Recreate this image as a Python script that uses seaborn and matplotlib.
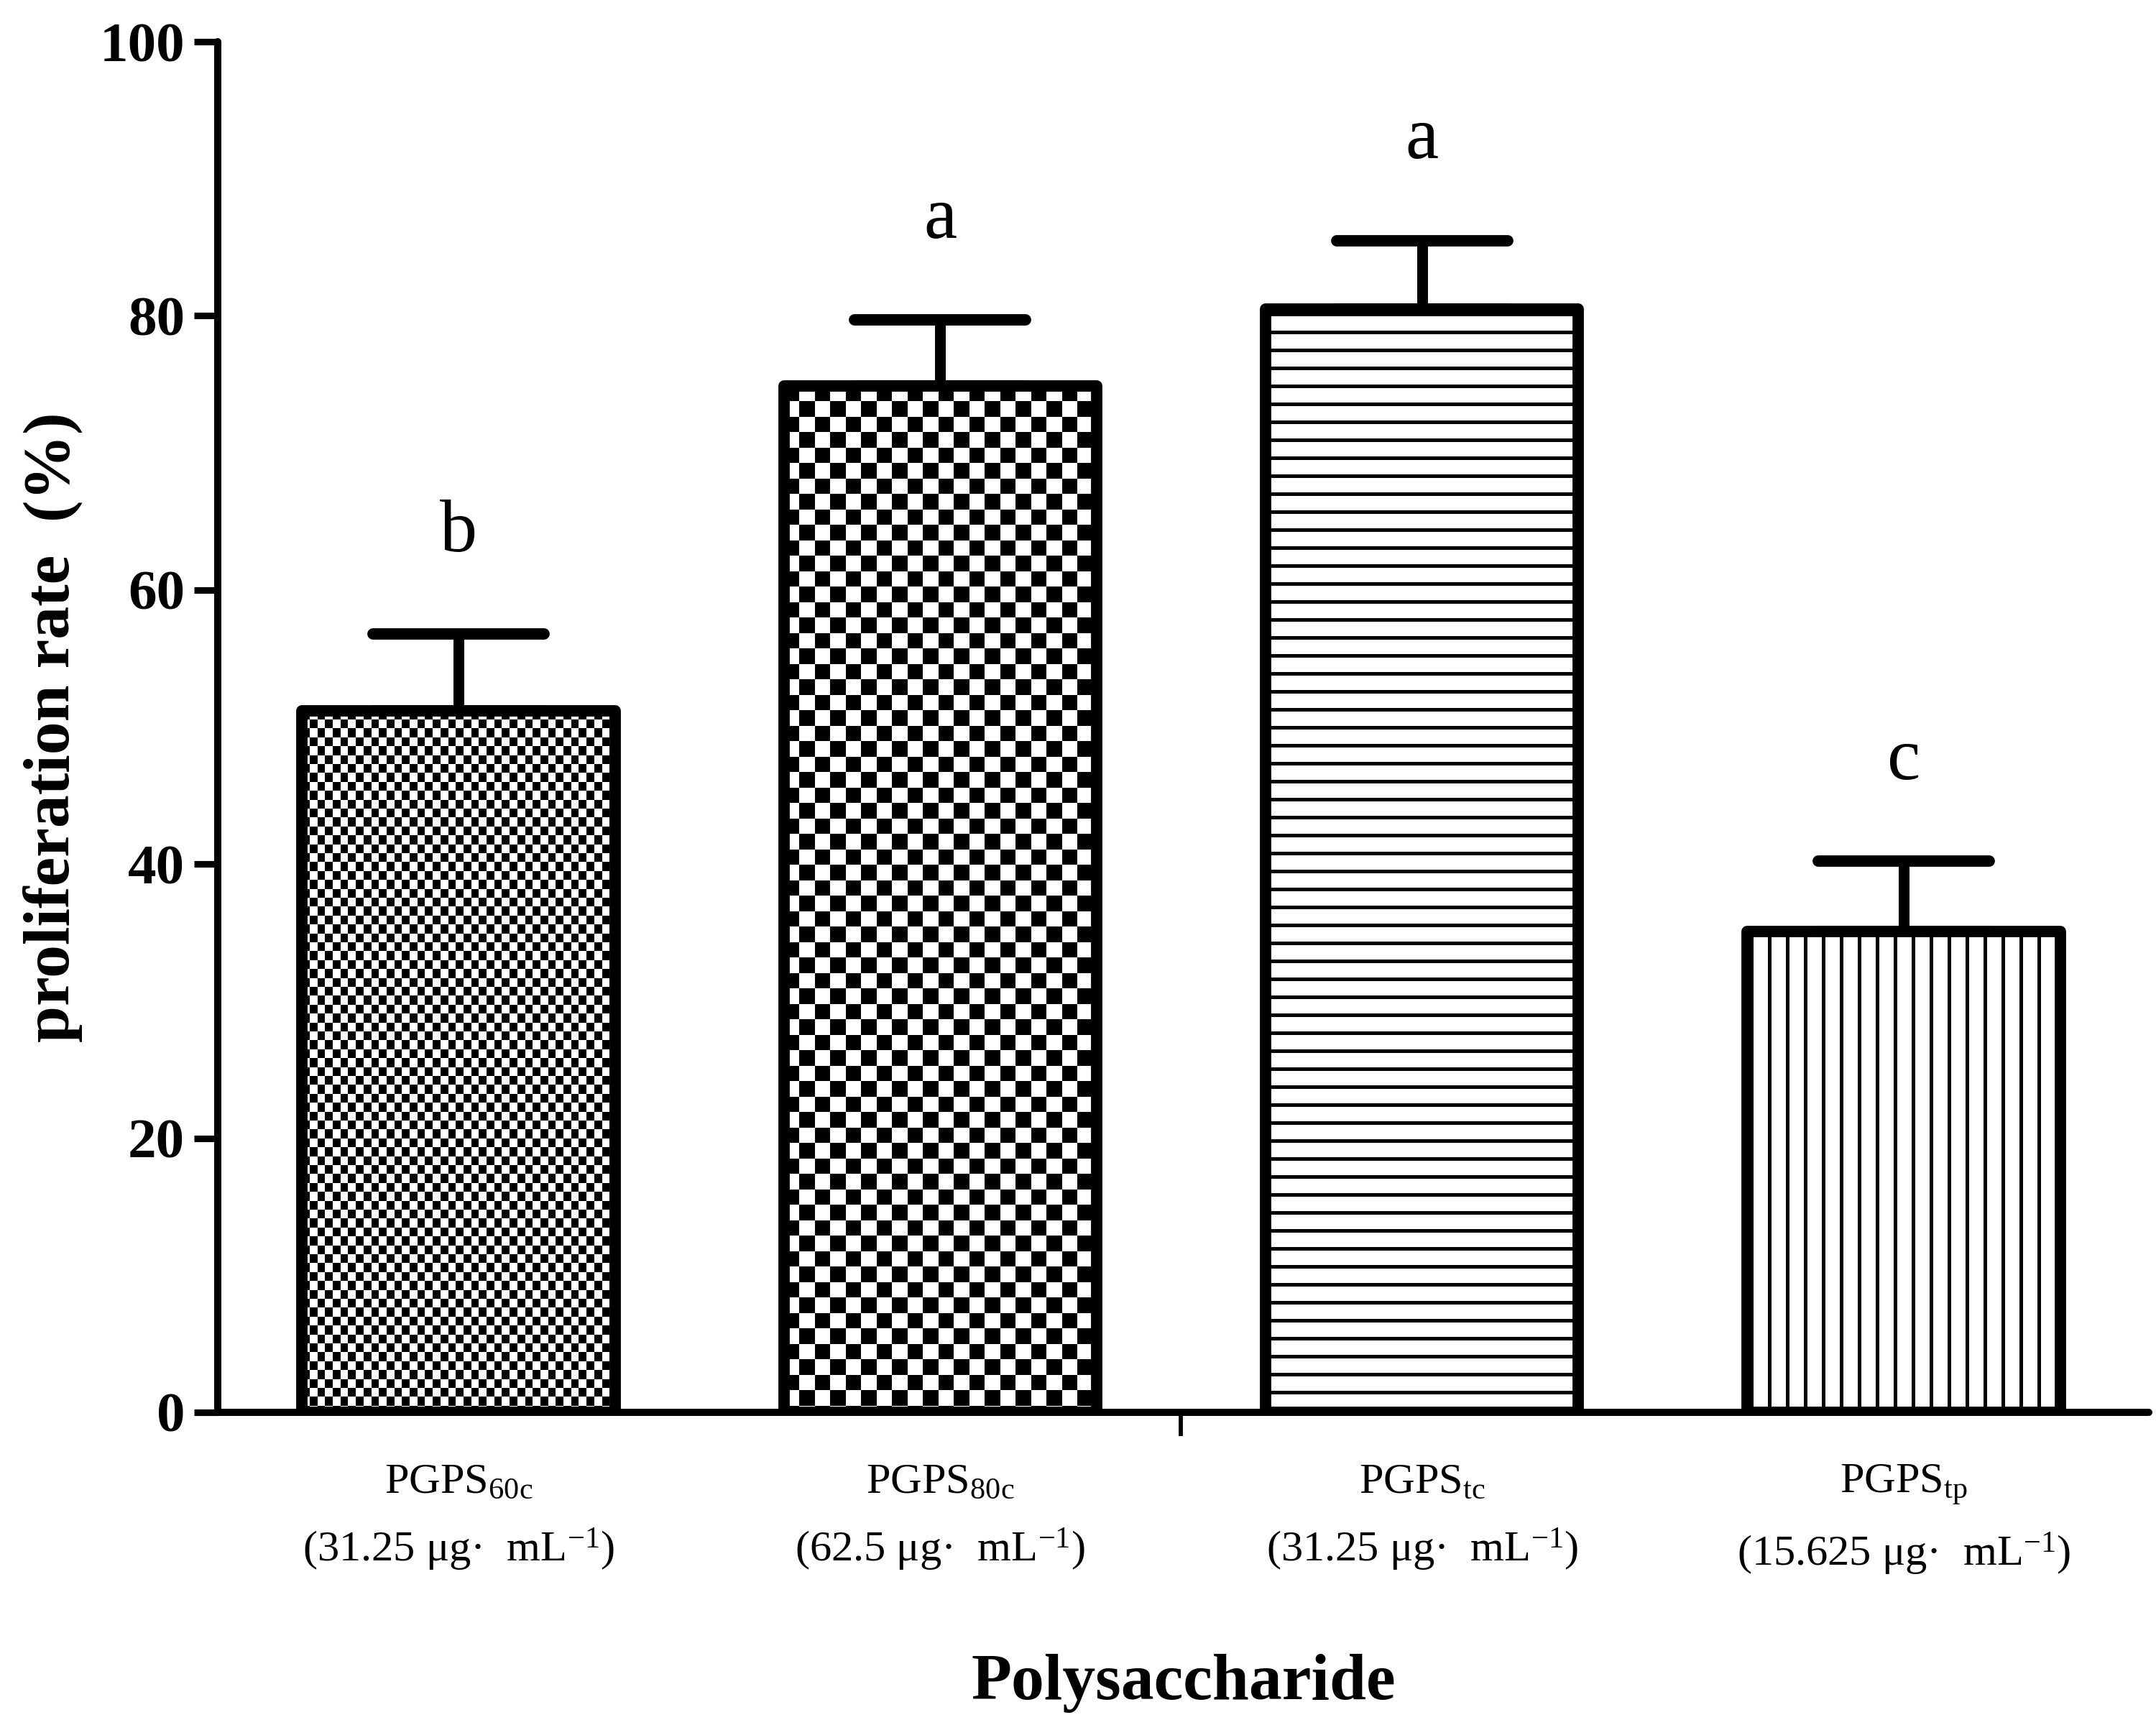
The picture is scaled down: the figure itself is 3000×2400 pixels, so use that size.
import numpy as np
import pandas as pd
import matplotlib.pyplot as plt
from matplotlib.colors import ListedColormap
from matplotlib.markers import MarkerStyle
import seaborn as sns

# Data
groups = [
    "PGPS$_{\\mathrm{60c}}$\n(31.25 μg·  mL$^{\\mathrm{-1}}$)",
    "PGPS$_{\\mathrm{80c}}$\n(62.5 μg·  mL$^{\\mathrm{-1}}$)",
    "PGPS$_{\\mathrm{tc}}$\n(31.25 μg·  mL$^{\\mathrm{-1}}$)",
    "PGPS$_{\\mathrm{tp}}$\n(15.625 μg·  mL$^{\\mathrm{-1}}$)",
]
rates = [51.2, 74.9, 80.5, 35.1]
sd = [5.6, 4.8, 5.0, 5.1]
letters = ["b", "a", "a", "c"]

# fill style per bar: (kind, cell width px, cell height px) or hatch string
fills = [("checker", 10.7, 12.4), ("checker", 21.5, 21.5), "--", "||"]

sns.set_style("ticks", {"axes.edgecolor": "black", "text.color": "black",
                        "axes.labelcolor": "black", "xtick.color": "black",
                        "ytick.color": "black"})
plt.rcParams["font.family"] = ["Liberation Serif", "DejaVu Serif"]
plt.rcParams["mathtext.fontset"] = "custom"
plt.rcParams["mathtext.rm"] = "Liberation Serif"
plt.rcParams["mathtext.it"] = "Liberation Serif:italic"
plt.rcParams["mathtext.bf"] = "Liberation Serif:bold"
plt.rcParams["hatch.linewidth"] = 1.2
plt.rcParams["hatch.color"] = "black"

df = pd.DataFrame({"group": groups, "rate": rates})

fig = plt.figure(figsize=(10, 8), dpi=300)
ax = fig.add_axes([303 / 3000, (2400 - 1965) / 2400, 2687 / 3000, 1907 / 2400])

sns.barplot(data=df, x="group", y="rate", order=groups, color="white",
            saturation=1, edgecolor="black", linewidth=3.8, width=0.65,
            errorbar=None, ax=ax)

xpos = np.arange(len(groups))
_, caplines, _ = ax.errorbar(xpos, rates, yerr=[np.zeros(len(sd)), sd],
                             fmt="none", ecolor="black", elinewidth=3.6,
                             capsize=28.5, capthick=3.8, zorder=1)
for cl in caplines:
    cl.set_marker(MarkerStyle("_", capstyle="round"))

ax.set_xlim(-0.5, 3.509)
ax.set_ylim(0, 100)

# pixel scale for the checker fills
p0 = ax.transData.transform((0, 0))
p1 = ax.transData.transform((1, 1))
px_x = p1[0] - p0[0]
px_y = p1[1] - p0[1]

for patch, style in zip(ax.patches, fills):
    patch.set_joinstyle("round")
    patch.set_zorder(3)
    if isinstance(style, tuple):
        _, cw, ch = style
        patch.set_facecolor("none")
        x0, w = patch.get_x(), patch.get_width()
        y0, h = patch.get_y(), patch.get_height()
        dx, dy = cw / px_x, ch / px_y
        nx = int(np.ceil(w / dx)) + 1
        ny = int(np.ceil(h / dy)) + 1
        xs = x0 + np.arange(nx + 1) * dx
        ys = y0 + h - np.arange(ny + 1)[::-1] * dy
        cells = np.indices((ny, nx)).sum(axis=0) % 2
        mesh = ax.pcolormesh(xs, ys, cells, cmap=ListedColormap(["white", "black"]),
                             vmin=0, vmax=1, zorder=2)
        mesh.set_clip_path(patch)
    else:
        patch.set_hatch(style)

for i in range(len(groups)):
    ax.text(xpos[i], rates[i] + sd[i] + 6.0, letters[i], ha="center",
            va="baseline", fontsize=25)

ax.set_xlim(-0.5, 3.509)
ax.set_ylim(0, 100)

for side in ["top", "right"]:
    ax.spines[side].set_visible(False)
for side in ["left", "bottom"]:
    ax.spines[side].set_linewidth(2.4)
    ax.spines[side].set_capstyle("round")

ax.set_yticks(range(0, 101, 20))
ax.tick_params(axis="y", length=8, width=2.2, pad=3, labelsize=19)
for lab in ax.get_yticklabels():
    lab.set_fontweight("bold")

ax.set_xticks([1.5], minor=True)
ax.tick_params(axis="x", which="major", length=0, pad=17, labelsize=14.5)
ax.tick_params(axis="x", which="minor", length=8, width=1.4)
for lab in ax.get_xticklabels():
    lab.set_linespacing(1.68)

ax.set_xlabel("Polysaccharide", fontsize=22, fontweight="bold")
ax.xaxis.label.set_va("center")
ax.xaxis.set_label_coords(0.5, -0.1977)
ax.set_ylabel("proliferation rate  (%)", fontsize=22, fontweight="bold")
ax.yaxis.label.set_va("center")
ax.yaxis.set_label_coords(-0.0856, 0.5)

fig.savefig("out.png", dpi=300, facecolor="white")
